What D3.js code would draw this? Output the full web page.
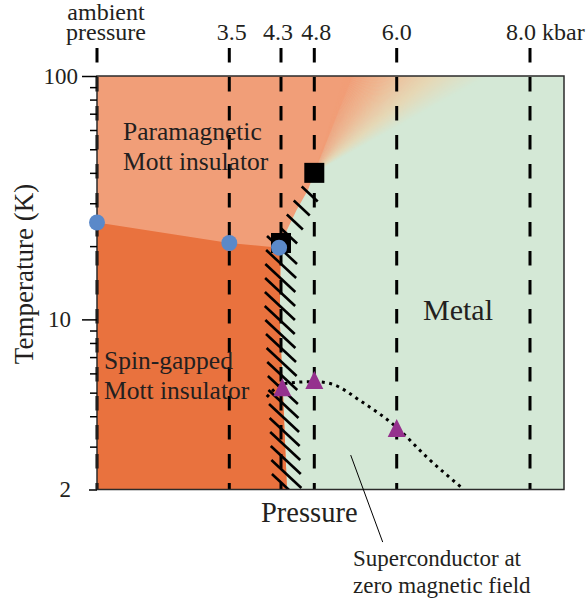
<!DOCTYPE html>
<html>
<head>
<meta charset="utf-8">
<script src="https://d3js.org/d3.v7.min.js"></script>
<style>
  body { margin: 0; background: #fff; }
  svg { display: block; font-family: "Liberation Serif", "Times New Roman", serif; }
</style>
</head>
<body>
<div class="graph"></div>
<script>
// pressure of each measurement (kbar), 0 = ambient
const pressures = [0, 3.5, 4.3, 4.8, 6.0, 8.0];
const pressureLabels = [['ambient', 'pressure'], ['3.5'], ['4.3'], ['4.8'], ['6.0'], ['8.0 kbar']];
// temperature axis (K, log)
const tempMajor = [2, 10, 100];
const tempMinor = [3, 4, 5, 6, 7, 8, 9, 20, 30, 40, 50, 60, 70, 80, 90];

// spin-gap transition (blue circles)
const gapP = [0, 3.5, 4.27];
const gapT = [25, 20.6, 19.7];
// first-order Mott boundary, from the critical end point down
const mottP = [4.8, 4.705, 4.536, 4.39, 4.32, 4.29, 4.28, 4.33, 4.39];
const mottT = [40, 34, 28.2, 23.3, 20.2, 15, 10, 5, 2];
// black squares
const endP = [4.8, 4.3];
const endT = [40, 20.6];
// superconducting Tc (triangles)
const tcP = [4.32, 4.8, 6.0];
const tcT = [5.16, 5.53, 3.51];
// dotted Tc guide
const tcLineP = [4.08, 4.35, 4.8, 5.03, 5.51, 6.0, 6.45, 6.98];
const tcLineT = [4.8, 5.45, 5.55, 5.45, 4.55, 3.6, 2.72, 2.03];

const C = {
  para: '#f19e78',   // paramagnetic insulator
  gap: '#e9723e',    // spin-gapped insulator
  metal: '#d4e8d6',
  peach: '#efb690',
  mid: '#e6d8b6',
  blue: '#5b89c9',
  purple: '#95318e',
  ink: '#231f20'
}

const W = 586, H = 600
const x = d3.scaleLinear().domain([0, 3.5, 4.3, 4.8, 6.0, 8.0, 8.5]).range([97, 229.3, 281, 314.3, 396.7, 530, 564])
const y = d3.scaleLog().domain([2, 100]).range([489.5, 76])
const pL = x(0), pR = x(8.5), pT = y(100), pB = y(2)

const svg = d3.select('.graph').append('svg').attr('width', W).attr('height', H)

svg.append('clipPath').attr('id', 'plot')
  .append('rect').attr('x', pL).attr('y', pT).attr('width', pR - pL).attr('height', pB - pT)

const area = svg.append('g').attr('clip-path', 'url(#plot)')

// metal background
area.append('rect').attr('x', pL).attr('y', pT).attr('width', pR - pL).attr('height', pB - pT)
  .attr('fill', C.metal)

const mottXY = mottP.map((p, i) => [x(p), y(mottT[i])])
const cp = mottXY[0]
// crossover fan above the critical end point (angles from vertical)
const a0 = 17 * Math.PI / 180, a1 = 61 * Math.PI / 180, R = 700
const ray = a => [cp[0] + R * Math.sin(a), cp[1] - R * Math.cos(a)]

// paramagnetic insulator (runs a little under the fan to hide the seam)
const paraEdge = ray(a0 + 0.08)
const para = [paraEdge, [pL, paraEdge[1]], [pL, pB]].concat(mottXY.slice().reverse())
area.append('path').attr('d', d3.line()(para) + 'Z').attr('fill', C.para)

// spin-gapped insulator
const gapXY = gapP.map((p, i) => [x(p), y(gapT[i])])
const gap = gapXY.concat(mottXY.filter((d, i) => mottT[i] < 20)).concat([[pL, pB]])
area.append('path').attr('d', d3.line()(gap) + 'Z').attr('fill', C.gap)

const fanColor = d3.scaleLinear().domain([0, 0.1, 0.42, 0.78, 1])
  .range([C.para, C.para, C.peach, C.mid, C.metal]).interpolate(d3.interpolateRgb)
const n = 100
area.selectAll('.fan').data(d3.range(n)).enter().append('path')
  .attr('class', 'fan')
  .attr('d', i => {
    let a = a0 + (a1 - a0) * i / n, b = a0 + (a1 - a0) * (i + 1.6) / n
    return d3.line()([cp, ray(a), ray(b)]) + 'Z'
  })
  .attr('fill', i => fanColor((i + 0.5) / n))

// hatching along the first-order line
const bx = yy => {
  for (let i = 1; i < mottXY.length; i++) {
    let [x0, y0] = mottXY[i - 1], [x1, y1] = mottXY[i]
    if (yy <= y1) return x0 + (x1 - x0) * (yy - y0) / (y1 - y0)
  }
  return mottXY[mottXY.length - 1][0]
}
const hatchY = d3.range(194, 495, 14)
area.selectAll('.hatch').data(hatchY).enter().append('line')
  .attr('class', 'hatch')
  .each(function (yc) {
    let upper = yc < 243
    let h = upper ? 8 : 15, off = upper ? 4 : 0
    let xc = bx(yc) + off
    d3.select(this).attr('x1', xc - h).attr('y1', yc - h * 0.93).attr('x2', xc + h).attr('y2', yc + h * 0.93)
  })
  .attr('stroke', '#000').attr('stroke-width', 2.6)

// dashed pressure lines
svg.selectAll('.pline').data(pressures).enter().append('line')
  .attr('class', 'pline')
  .attr('x1', d => x(d)).attr('x2', d => x(d))
  .attr('y1', 48).attr('y2', pB)
  .attr('stroke', '#000').attr('stroke-width', 3)
  .attr('stroke-dasharray', '14.5,14.5')

// Tc guide
svg.append('path')
  .attr('d', d3.line().curve(d3.curveMonotoneX)(tcLineP.map((p, i) => [x(p), y(tcLineT[i])])))
  .attr('fill', 'none').attr('stroke', '#000').attr('stroke-width', 3)
  .attr('stroke-dasharray', '3,4.5')

// frame
svg.append('rect').attr('x', pL).attr('y', pT).attr('width', pR - pL).attr('height', pB - pT)
  .attr('fill', 'none').attr('stroke', '#2b2b2b').attr('stroke-width', 1.5)

// temperature axis
const yAxis = svg.append('g').attr('transform', `translate(${pL},0)`)
  .call(d3.axisLeft(y).tickValues(tempMajor).tickFormat(d3.format('d')).tickSize(15))
yAxis.select('.domain').remove()
yAxis.selectAll('.tick line').attr('stroke', '#000').attr('stroke-width', 1.5)
  .attr('x2', d => d === 2 ? -8 : -15)
yAxis.selectAll('.tick text')
  .attr('x', d => d === 100 ? -19 : -26)
  .attr('font-size', 23).attr('font-family', 'Liberation Serif').attr('fill', C.ink)
const yMinor = svg.append('g').attr('transform', `translate(${pL},0)`)
  .call(d3.axisLeft(y).tickValues(tempMinor).tickFormat('').tickSize(7))
yMinor.select('.domain').remove()
yMinor.selectAll('.tick line').attr('stroke', '#000').attr('stroke-width', 1.5)

// top pressure labels
const plab = svg.selectAll('.plab').data(pressures).enter().append('text')
  .attr('class', 'plab')
  .attr('font-size', 24).attr('fill', C.ink)
  .attr('text-anchor', (d, i) => i === pressures.length - 1 ? 'start' : 'middle')
plab.each(function (d, i) {
  let lines = pressureLabels[i]
  let xx = i === 0 ? x(d) + 9 : i === pressures.length - 1 ? x(d) - 24 : x(d) + [0, 2.5, -3, 2, 0][i]
  lines.forEach((t, k) => {
    d3.select(this).append('tspan').attr('x', xx).attr('y', 40 - (lines.length - 1 - k) * 20).text(t)
  })
})

// markers
svg.selectAll('.gap').data(gapP).enter().append('circle')
  .attr('cx', d => x(d)).attr('cy', (d, i) => y(gapT[i])).attr('r', 8)
  .attr('fill', C.blue)
svg.selectAll('.end').data(endP).enter().append('rect')
  .attr('x', d => x(d) - 10).attr('y', (d, i) => y(endT[i]) - 10)
  .attr('width', 20).attr('height', 20).attr('fill', '#000')
// draw the blue circle at 4.3 over the square
svg.selectAll('circle').raise()
svg.selectAll('.tc').data(tcP).enter().append('path')
  .attr('d', 'M0,-11L9,7L-9,7Z')
  .attr('transform', (d, i) => `translate(${x(d)},${y(tcT[i])})`)
  .attr('fill', C.purple)

// pointer to the superconducting region
const ps = [x(5.33), y(2.77)]
svg.append('line').attr('x1', ps[0]).attr('y1', ps[1]).attr('x2', ps[0] + 32).attr('y2', ps[1] + 87)
  .attr('stroke', '#000').attr('stroke-width', 1)

// texts
const label = (t, xx, yy, size) => svg.append('text').attr('x', xx).attr('y', yy)
  .attr('font-size', size).attr('fill', C.ink).text(t)
label('Paramagnetic', 123, 140, 25.5)
label('Mott insulator', 123, 170, 25.5)
label('Spin-gapped', 104, 369, 25.5)
label('Mott insulator', 104, 399, 25.5)
label('Metal', 423, 320, 30)
label('Pressure', 261, 522, 28.5)
label('Superconductor at', 353, 566, 23)
label('zero magnetic field', 353, 593, 23)
svg.append('text').attr('transform', 'translate(33,274) rotate(-90)')
  .attr('text-anchor', 'middle').attr('font-size', 27).attr('fill', C.ink)
  .text('Temperature (K)')
</script>
</body>
</html>
